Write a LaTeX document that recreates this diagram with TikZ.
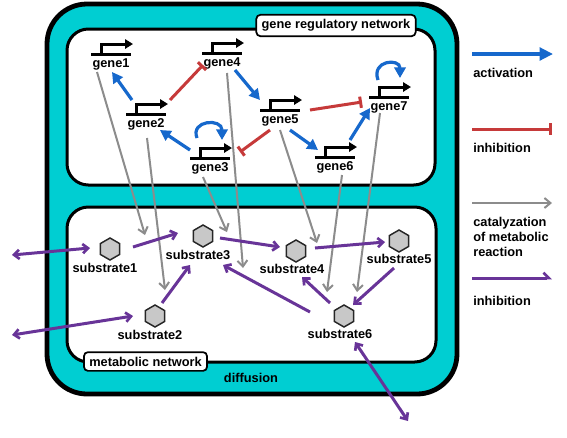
\documentclass[tikz,border=0pt]{standalone}
\usepackage{fontspec}
\setmainfont{Liberation Sans}
\usetikzlibrary{arrows.meta,shapes.geometric,calc}
\definecolor{cyanbg}{RGB}{0,206,210}
\definecolor{actblue}{RGB}{22,104,204}
\definecolor{inhred}{RGB}{198,58,58}
\definecolor{catgray}{RGB}{140,140,140}
\definecolor{reacpurple}{RGB}{104,52,152}
\definecolor{hexgray}{RGB}{200,200,200}
\begin{document}
\begin{tikzpicture}[x=0.75pt,y=-0.75pt,
  txt/.style={font=\fontsize{9.6pt}{11.2pt}\selectfont\bfseries, inner sep=0pt},
  genelabel/.style={txt},
  sublabel/.style={txt},
  substrate/.style={regular polygon, regular polygon sides=6, shape border rotate=30,
    minimum size=16.5pt, inner sep=0pt, fill=hexgray, draw=black!85, line width=1.1pt},
  netbox/.style={fill=white, draw=black, line width=2.25pt, rounded corners=16pt},
  tagbox/.style={txt, fill=white, draw=black, line width=1.3pt, rounded corners=3pt,
    inner xsep=4pt, inner ysep=3.5pt},
  act/.style={draw=actblue, line width=2.4pt, -{Triangle[length=8pt,width=8.5pt]}},
  inh/.style={draw=inhred, line width=2.25pt, -{Bar[width=8.5pt,line width=2.25pt]}},
  cat/.style={draw=catgray, line width=1.5pt, -{Straight Barb[length=4.5pt,width=7.5pt,line width=1.5pt]}},
  reac/.style={draw=reacpurple, line width=2.25pt, -{Straight Barb[length=4pt,width=7pt,line width=2pt]}},
  reacboth/.style={draw=reacpurple, line width=2.25pt, {Straight Barb[length=4pt,width=7pt,line width=2pt]}-{Straight Barb[length=4pt,width=7pt,line width=2pt]}},
  prom/.pic={
    \draw[line width=2.25pt] (-20,-10) -- (20,-10);
    \draw[line width=2.25pt, line join=miter, -{Triangle[length=6pt,width=7pt]}] (-10,-9) -- (-10,-20) -- (22,-20);
  }
]
\path[use as bounding box] (0,0) rectangle (567,437);

% cell and compartments
\draw[fill=cyanbg, draw=black, line width=3.6pt, rounded corners=30pt] (47,4) rectangle (457,394);
\draw[netbox] (67,29) rectangle (435,185);
\draw[netbox] (67,207) rectangle (436,362);
\node[tagbox] (grn) at (336,25.5) {gene regulatory network};
\node[tagbox] (mn) at (145.5,361.5) {metabolic network};
\node[txt] (diff) at (251,378) {diffusion};

% genes
\node[genelabel] (g1) at (111,64) {gene1};
\node[genelabel] (g2) at (146,124) {gene2};
\node[genelabel] (g3) at (210,168) {gene3};
\node[genelabel] (g4) at (222,63) {gene4};
\node[genelabel] (g5) at (280,120) {gene5};
\node[genelabel] (g6) at (335,167) {gene6};
\node[genelabel] (g7) at (389,107) {gene7};
\foreach \g in {g1,g2,g3,g4,g5,g6,g7} { \pic at (\g) {prom}; }

% substrates
\node[substrate] (s1) at (110,249) {};
\node[substrate] (s2) at (155,316) {};
\node[substrate] (s3) at (203,236) {};
\node[substrate] (s4) at (296,251) {};
\node[substrate] (s5) at (399,241) {};
\node[substrate] (s6) at (344,316) {};
\node[sublabel] (s1t) at (105,268) {substrate1};
\node[sublabel] (s2t) at (150,335) {substrate2};
\node[sublabel] (s3t) at (198,255) {substrate3};
\node[sublabel] (s4t) at (292,269) {substrate4};
\node[sublabel] (s5t) at (399,259) {substrate5};
\node[sublabel] (s6t) at (340,334) {substrate6};

% free ends
\coordinate (e1) at (12,255);
\coordinate (e2) at (12,335);
\coordinate (e3) at (408,421);
\coordinate (c1) at (145,235);
\coordinate (c2) at (165,290);
\coordinate (c3) at (227,232);
\coordinate (c4) at (243,268);
\coordinate (c5) at (317,243);
\coordinate (c6) at (327,292);
\coordinate (c7) at (357,292);

% catalyzation (gray)
\draw[cat] ($(g1)+(-14,8)$) -- (c1);
\draw[cat] ($(g2)+(1,14)$) -- (c2);
\draw[cat] ($(g3)+(-7,9)$) -- (c3);
\draw[cat] ($(g4)+(5,10)$) -- (c4);
\draw[cat] ($(g5)+(0,10)$) -- (c5);
\draw[cat] ($(g6)+(7,8)$) -- (c6);
\draw[cat] ($(g7)+(-9,6)$) -- (c7);

% metabolic reactions (purple)
\draw[reacboth] (e1) -- ($(s1)+(-20,-1)$);
\draw[reacboth] (e2) -- ($(s2)+(-22,0)$);
\draw[reacboth] ($(s6)+(11,26)$) -- (e3);
\draw[reac] ($(s1)+(23,-2)$) -- ($(s3)+(-25,-3)$);
\draw[reac] ($(s2)+(7,-13)$) -- ($(s3)+(-13,29)$);
\draw[reac] ($(s3)+(17,2)$) -- ($(s4)+(-16,-4)$);
\draw[reac] ($(s4)+(19,-3)$) -- ($(s5)+(-14,1)$);
\draw[reac] ($(s5)+(-5,27)$) -- ($(s6)+(9,-11)$);
\draw[reac] ($(s6)+(-14,-13)$) -- ($(s4)+(6,26)$);
\draw[reac] ($(s6)+(-34,-4)$) -- ($(s3)+(20,29)$);

% activation (blue)
\draw[act] ($(g2)+(-14,-24)$) -- ($(g1)+(1,8)$);
\draw[act] ($(g3)+(-20,-18)$) -- ($(g2)+(14,6)$);
\draw[act] ($(g4)+(13,7)$) -- ($(g5)+(-20,-20)$);
\draw[act] ($(g5)+(10,10)$) -- ($(g6)+(-17,-17)$);
\draw[act] ($(g6)+(15,-27)$) -- ($(g7)+(-19,1)$);
\draw[act] ($(g3)+(-13,-30)$) .. controls ($(g3)+(-20,-48)$) and ($(g3)+(12,-50)$) .. ($(g3)+(12,-28)$);
\draw[act] ($(g7)+(-11,-27)$) .. controls ($(g7)+(-18,-47)$) and ($(g7)+(11,-49)$) .. ($(g7)+(11,-29)$);

% inhibition (red)
\draw[inh] ($(g2)+(24,-24)$) -- ($(g4)+(-19,2)$);
\draw[inh] ($(g5)+(-10,10)$) -- ($(g3)+(30,-16)$);
\draw[inh] ($(g5)+(30,-10)$) -- ($(g7)+(-27,-5)$);

% legend
\coordinate (la1) at (472,54);  \coordinate (lb1) at (553,54);
\coordinate (la2) at (472,129); \coordinate (lb2) at (552,129);
\coordinate (la3) at (472,203); \coordinate (lb3) at (552,203);
\coordinate (la4) at (472,278); \coordinate (lb4) at (552,278);
\draw[act, -{Triangle[length=10pt,width=9.5pt]}] (la1) -- (lb1);
\draw[inh, -{Bar[width=9pt,line width=2.25pt]}] (la2) -- (lb2);
\draw[cat] (la3) -- (lb3);
\draw[draw=reacpurple, line width=2.25pt, -{Straight Barb[harpoon,length=4pt,width=8pt,line width=2pt]}] (la4) -- (lb4);
\node[txt, anchor=west] (l1) at (473,73) {activation};
\node[txt, anchor=west] (l2) at (473,148) {inhibition};
\node[txt, anchor=west, align=left] (l3) at (473,237) {catalyzation\\of metabolic\\reaction};
\node[txt, anchor=west] (l4) at (473,301) {inhibition};
\end{tikzpicture}
\end{document}
